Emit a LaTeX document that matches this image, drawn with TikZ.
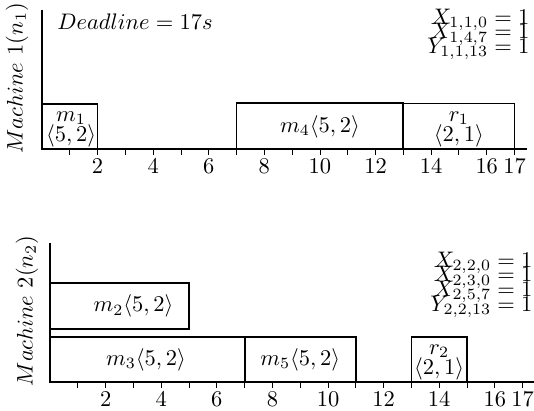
\documentclass[tikz,border=0pt]{standalone}
\usepackage{tikz}
\usetikzlibrary{positioning}
\tikzset{
	taskbox/.style={draw, thick},
	axisline/.style={thick}
}
\tikzset{
	ticklabel/.style={anchor=north, inner sep=1.5pt},
	varlist/.style={anchor=east, align=right, inner sep=0pt},
	twoline/.style={anchor=south, align=center, inner sep=0pt}
}

\begin{document}
\begin{tikzpicture}[x=12.36pt, y=12.36pt]
  \useasboundingbox (-1.51,-9.42) rectangle (17.70,5.36);
  % machine 1
  \draw[axisline] (0,5) -- (0,0) -- (17.45,0);
  \foreach \t in {1,...,17} \draw (\t,0) -- (\t,-0.22);
  \foreach \t in {2,4,6,8,10,12,14,16,17}
    \node[ticklabel] (ta\t) at (\t,-0.22) {$\t$};
  \draw[taskbox] (0,0) rectangle (2,1.62);
  \draw[taskbox] (7,0) rectangle (13,1.65);
  \draw (13,0) rectangle (17,1.65);
  \node[twoline] (m1) at (1.05,0.04) {$m_1$\\[-3pt]$\langle 5,2\rangle$};
  \node (m4) at (10,0.8) {$m_4\langle 5,2\rangle$};
  \node[twoline] (r1) at (15,0.04) {$r_1$\\[-3pt]$\langle 2,1\rangle$};
  \node[anchor=west, inner sep=0pt] (dl) at (0.54,4.57) {$Deadline = 17s$};
  \node[varlist] (v1) at (17.55,4.12)
    {$X_{1,1,0} = 1$\\[-5.5pt]$X_{1,4,7} = 1$\\[-5.5pt]$Y_{1,1,13} = 1$};
  \node[rotate=90] (n1) at (-0.9,2.55) {$Machine\ 1(n_1)$};
  % machine 2
  \begin{scope}[shift={(0.29,-8.38)}]
    \draw[axisline] (0,5) -- (0,0) -- (17.4,0);
    \foreach \t in {1,...,17} \draw (\t,0) -- (\t,-0.22);
    \foreach \t in {2,4,6,8,10,12,14,16,17}
      \node[ticklabel] (tb\t) at (\t,-0.22) {$\t$};
    \draw[taskbox] (0,1.9) rectangle (5,3.56);
    \draw[taskbox] (0,0) rectangle (7,1.62);
    \draw[taskbox] (7,0) rectangle (11,1.62);
    \draw[taskbox] (13,0) rectangle (15,1.62);
    \node (m2) at (3,2.73) {$m_2\langle 5,2\rangle$};
    \node (m3) at (3.45,0.8) {$m_3\langle 5,2\rangle$};
    \node (m5) at (9,0.8) {$m_5\langle 5,2\rangle$};
    \node[twoline] (r2) at (14,0.04) {$r_2$\\[-3pt]$\langle 2,1\rangle$};
    \node[varlist] (v2) at (17.37,3.5)
      {$X_{2,2,0} = 1$\\[-5.5pt]$X_{2,3,0} = 1$\\[-5.5pt]$X_{2,5,7} = 1$\\[-5.5pt]$Y_{2,2,13} = 1$};
    \node[rotate=90] (n2) at (-0.83,2.55) {$Machine\ 2(n_2)$};
  \end{scope}
\end{tikzpicture}
\end{document}
